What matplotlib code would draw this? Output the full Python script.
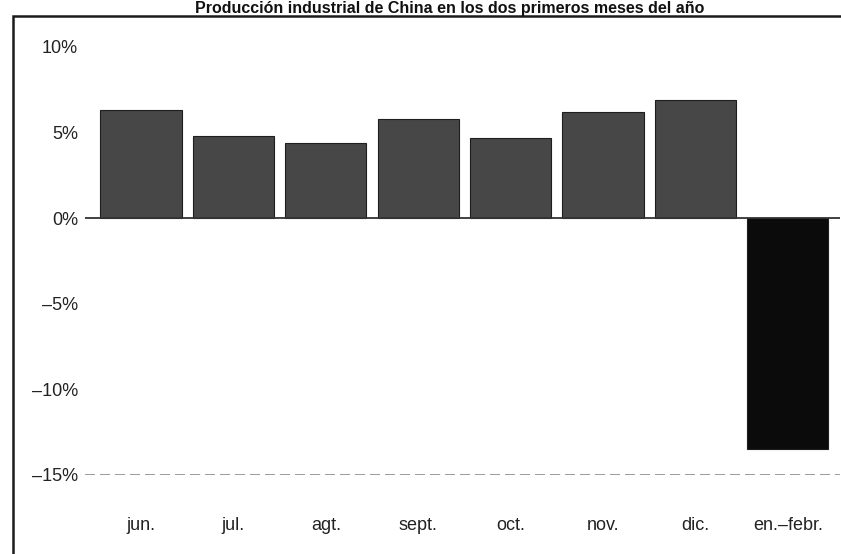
import matplotlib
matplotlib.use("Agg")
import matplotlib.pyplot as plt
from matplotlib.patches import Rectangle

# datos (crecimiento interanual, %)
meses = ["jun.", "jul.", "agt.", "sept.", "oct.", "nov.", "dic.", "en.\u2013febr."]
valores = [6.3, 4.8, 4.4, 5.8, 4.7, 6.2, 6.9, -13.5]
yticks = [10, 5, 0, -5, -10, -15]
ytick_labels = ["10%", "5%", "0%", "\u20135%", "\u201310%", "\u201315%"]
titulo = "Producción industrial de China en los dos primeros meses del año"

plt.rcParams["font.family"] = ["Liberation Sans", "DejaVu Sans"]

fig = plt.figure(figsize=(8.41, 5.54), dpi=100, facecolor="w")
ax = fig.add_axes([0.1011, 0.1426, 0.8977, 0.8036])

colores = ["#474747"] * (len(valores) - 1) + ["#0b0b0b"]
x = range(len(meses))
ax.bar(x, valores, width=0.88, color=colores, edgecolor="#1e1e1e", linewidth=0.8, zorder=2)

ax.axhline(0, color="#333333", linewidth=1.3, zorder=3)
ax.axhline(-15, color="#8a8a8a", linewidth=1.2, linestyle=(0, (6, 3)), zorder=1)

ax.set_xlim(-0.606, 7.565)
ax.set_ylim(-15, 11)
ax.set_yticks(yticks)
ax.set_yticklabels(ytick_labels, fontsize=13, color="#222222")
ax.set_xticks(list(x))
ax.set_xticklabels(meses, fontsize=13, color="#222222")
ax.tick_params(axis="y", length=0, pad=5)
ax.tick_params(axis="x", length=0, pad=30)
for s in ax.spines.values():
    s.set_visible(False)

# marco del grafico (se corta abajo y a la derecha)
marco = Rectangle((13 / 841, -0.05), 1.2, (554 - 16) / 554 + 0.05,
                  transform=fig.transFigure, fill=False,
                  edgecolor="#1a1a1a", linewidth=1.8, clip_on=False)
fig.patches.append(marco)

# titulo sobre el marco
fig.text(450 / 841, (554 - 1.5) / 554, titulo, ha="center", va="top",
         fontsize=11.5, fontweight="bold", color="#111111")

plt.savefig("out.png", dpi=100, facecolor="w")
